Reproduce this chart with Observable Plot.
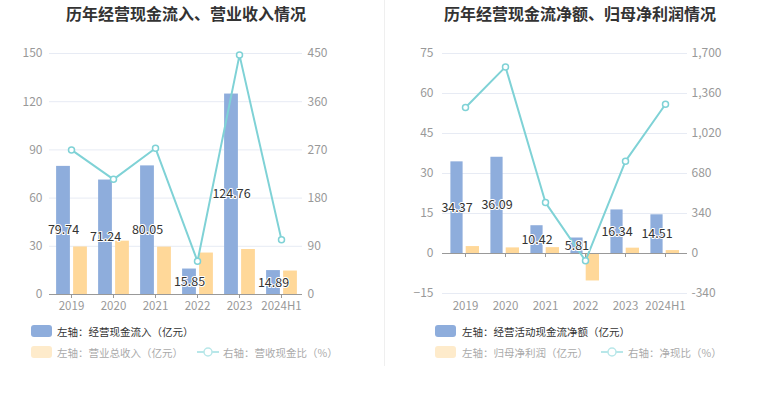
<!DOCTYPE html>
<html>
<head>
<meta charset="utf-8">
<script src="https://cdn.jsdelivr.net/npm/d3@7"></script>
<script src="https://cdn.jsdelivr.net/npm/@observablehq/plot@0.6"></script>
<style>
  html, body { margin: 0; padding: 0; background: #fff; }
  body { width: 765px; height: 393px; position: relative; overflow: hidden;
         font-family: "Noto Sans CJK SC", "Noto Sans", sans-serif; }
  .abs { position: absolute; }
  .title { font-size: 16px; font-weight: bold; color: #333; white-space: nowrap; transform: translate(-50%, -50%); }
  .leg { font-size: 10.5px; white-space: nowrap; transform: translateY(-50%); }
  .sw { width: 21px; height: 12px; border-radius: 3px; }
  .sep { left: 384px; top: 0; width: 1px; height: 366px; background: #efefef; }
</style>
</head>
<body>
<div class="abs sep"></div>
<div class="abs title" style="left:186px; top:13px;">历年经营现金流入、营业收入情况</div>
<div class="abs title" style="left:580px; top:13px;">历年经营现金流净额、归母净利润情况</div>
<div id="p1" class="abs" style="left:0; top:30px;"></div>
<div id="p2" class="abs" style="left:385px; top:30px;"></div>

<div class="abs sw" style="left:31px; top:325px; background:#8eaddc;"></div>
<div class="abs leg" style="left:57px; top:331px; color:#333;">左轴：经营现金流入（亿元）</div>
<div class="abs sw" style="left:31px; top:346px; background:#feebcb;"></div>
<div class="abs leg" style="left:57px; top:352px; color:#aaa;">左轴：营业总收入（亿元）</div>
<svg class="abs" style="left:196px; top:346px;" width="24" height="12">
  <line x1="1" y1="6" x2="23" y2="6" stroke="#b8e7e9" stroke-width="2"/>
  <circle cx="12" cy="6" r="4" fill="#fff" stroke="#b8e7e9" stroke-width="1.5"/>
</svg>
<div class="abs leg" style="left:223px; top:352px; color:#aaa;">右轴：营收现金比（%）</div>

<div class="abs sw" style="left:435px; top:325px; background:#8eaddc;"></div>
<div class="abs leg" style="left:462px; top:331px; color:#333;">左轴：经营活动现金流净额（亿元）</div>
<div class="abs sw" style="left:435px; top:346px; background:#feebcb;"></div>
<div class="abs leg" style="left:462px; top:352px; color:#aaa;">左轴：归母净利润（亿元）</div>
<svg class="abs" style="left:600px; top:346px;" width="24" height="12">
  <line x1="1" y1="6" x2="23" y2="6" stroke="#b8e7e9" stroke-width="2"/>
  <circle cx="12" cy="6" r="4" fill="#fff" stroke="#b8e7e9" stroke-width="1.5"/>
</svg>
<div class="abs leg" style="left:628px; top:352px; color:#aaa;">右轴：净现比（%）</div>

<script>
const years = ["2019", "2020", "2021", "2022", "2023", "2024H1"];

// Chart 1
const cashInflow = [79.74, 71.24, 80.05, 15.85, 124.76, 14.89];
const revenue = [29.6, 33.2, 29.5, 25.8, 28.0, 14.6];
const cashRevRatio = [270, 215, 273, 62, 447, 102];
const leftTicks1 = [0, 30, 60, 90, 120, 150];
const rightTicks1 = ["0", "90", "180", "270", "360", "450"];

// Chart 2
const netCashFlow = [34.37, 36.09, 10.42, 5.81, 16.34, 14.51];
const netProfit = [2.6, 2.1, 2.2, -10.3, 2.0, 1.1];
const netCashRatio = [1241, 1586, 433, -62, 785, 1269];
const leftTicks2 = [-15, 0, 15, 30, 45, 60, 75];
const rightTicks2 = ["-340", "0", "340", "680", "1,020", "1,360", "1,700"];

const BLUE = "#8eaddc", ORANGE = "#ffd899", TEAL = "#7fd2d6";
const GRID = "#e7ebf4", AXIS = "#999";

function makeChart(opts) {
  const {width, height, mL, mR, mT, mB, lt, rt, bars, bars2, ratio,
         blueInset, orangeInset, labelDx, padL, padR, padX} = opts;
  const rMax = +String(rt[rt.length - 1]).replace(/,/g, "");
  const k = lt[lt.length - 1] / rMax;
  const data = years.map((y, i) => ({year: y, a: bars[i], b: bars2[i], r: ratio[i] * k}));
  return Plot.plot({
    width, height,
    marginLeft: mL, marginRight: mR, marginTop: mT, marginBottom: mB,
    style: {fontFamily: "'Noto Sans CJK SC', 'Noto Sans', sans-serif", fontSize: "12px", color: AXIS, background: "transparent"},
    x: {type: "band", domain: years, padding: 0, label: null},
    y: {domain: [lt[0], lt[lt.length - 1]], label: null},
    marks: [
      Plot.gridY(lt.filter(d => d !== 0), {stroke: GRID, strokeOpacity: 1}),
      Plot.axisY(lt, {anchor: "left", tickSize: 0, tickPadding: padL, label: null, fontSize: 12}),
      Plot.axisY(lt, {anchor: "right", tickSize: 0, tickPadding: padR, label: null, fontSize: 12,
                      tickFormat: d => rt[lt.indexOf(d)]}),
      Plot.axisX({anchor: "bottom", tickSize: 0, tickPadding: padX, label: null, fontSize: 11.5}),
      Plot.barY(data, {x: "year", y: "a", fill: BLUE, insetLeft: blueInset[0], insetRight: blueInset[1]}),
      Plot.barY(data, {x: "year", y: "b", fill: ORANGE, insetLeft: orangeInset[0], insetRight: orangeInset[1]}),
      Plot.ruleY([0], {stroke: AXIS, strokeWidth: 1}),
      Plot.ruleX(years, {x: d => d, y1: 0, y2: 0, insetBottom: -4, stroke: AXIS}),
      Plot.line(data, {x: "year", y: "r", stroke: TEAL, strokeWidth: 2}),
      Plot.dot(data, {x: "year", y: "r", r: 3, fill: "#fff", stroke: TEAL, strokeWidth: 1.5}),
      Plot.text(data, {x: "year", y: d => d.a / 2, text: d => d.a.toFixed(2), dx: labelDx,
                       fill: "#333", stroke: "#fff", strokeWidth: 2, paintOrder: "stroke", fontSize: 12.5})
    ]
  });
}

document.getElementById("p1").appendChild(makeChart({
  width: 385, height: 290, mL: 49, mR: 83, mT: 23, mB: 26,
  lt: leftTicks1, rt: rightTicks1, bars: cashInflow, bars2: revenue, ratio: cashRevRatio,
  blueInset: [6.1, 22.1], orangeInset: [23.1, 5.1], labelDx: -8, padL: 7, padR: 5, padX: 7
}));

document.getElementById("p2").appendChild(makeChart({
  width: 380, height: 290, mL: 57, mR: 78, mT: 23, mB: 27,
  lt: leftTicks2, rt: rightTicks2, bars: netCashFlow, bars2: netProfit, ratio: netCashRatio,
  blueInset: [5.4, 22.4], orangeInset: [20.7, 6.0], labelDx: -8.5, padL: 9, padR: 4, padX: 8
}));
</script>
</body>
</html>
